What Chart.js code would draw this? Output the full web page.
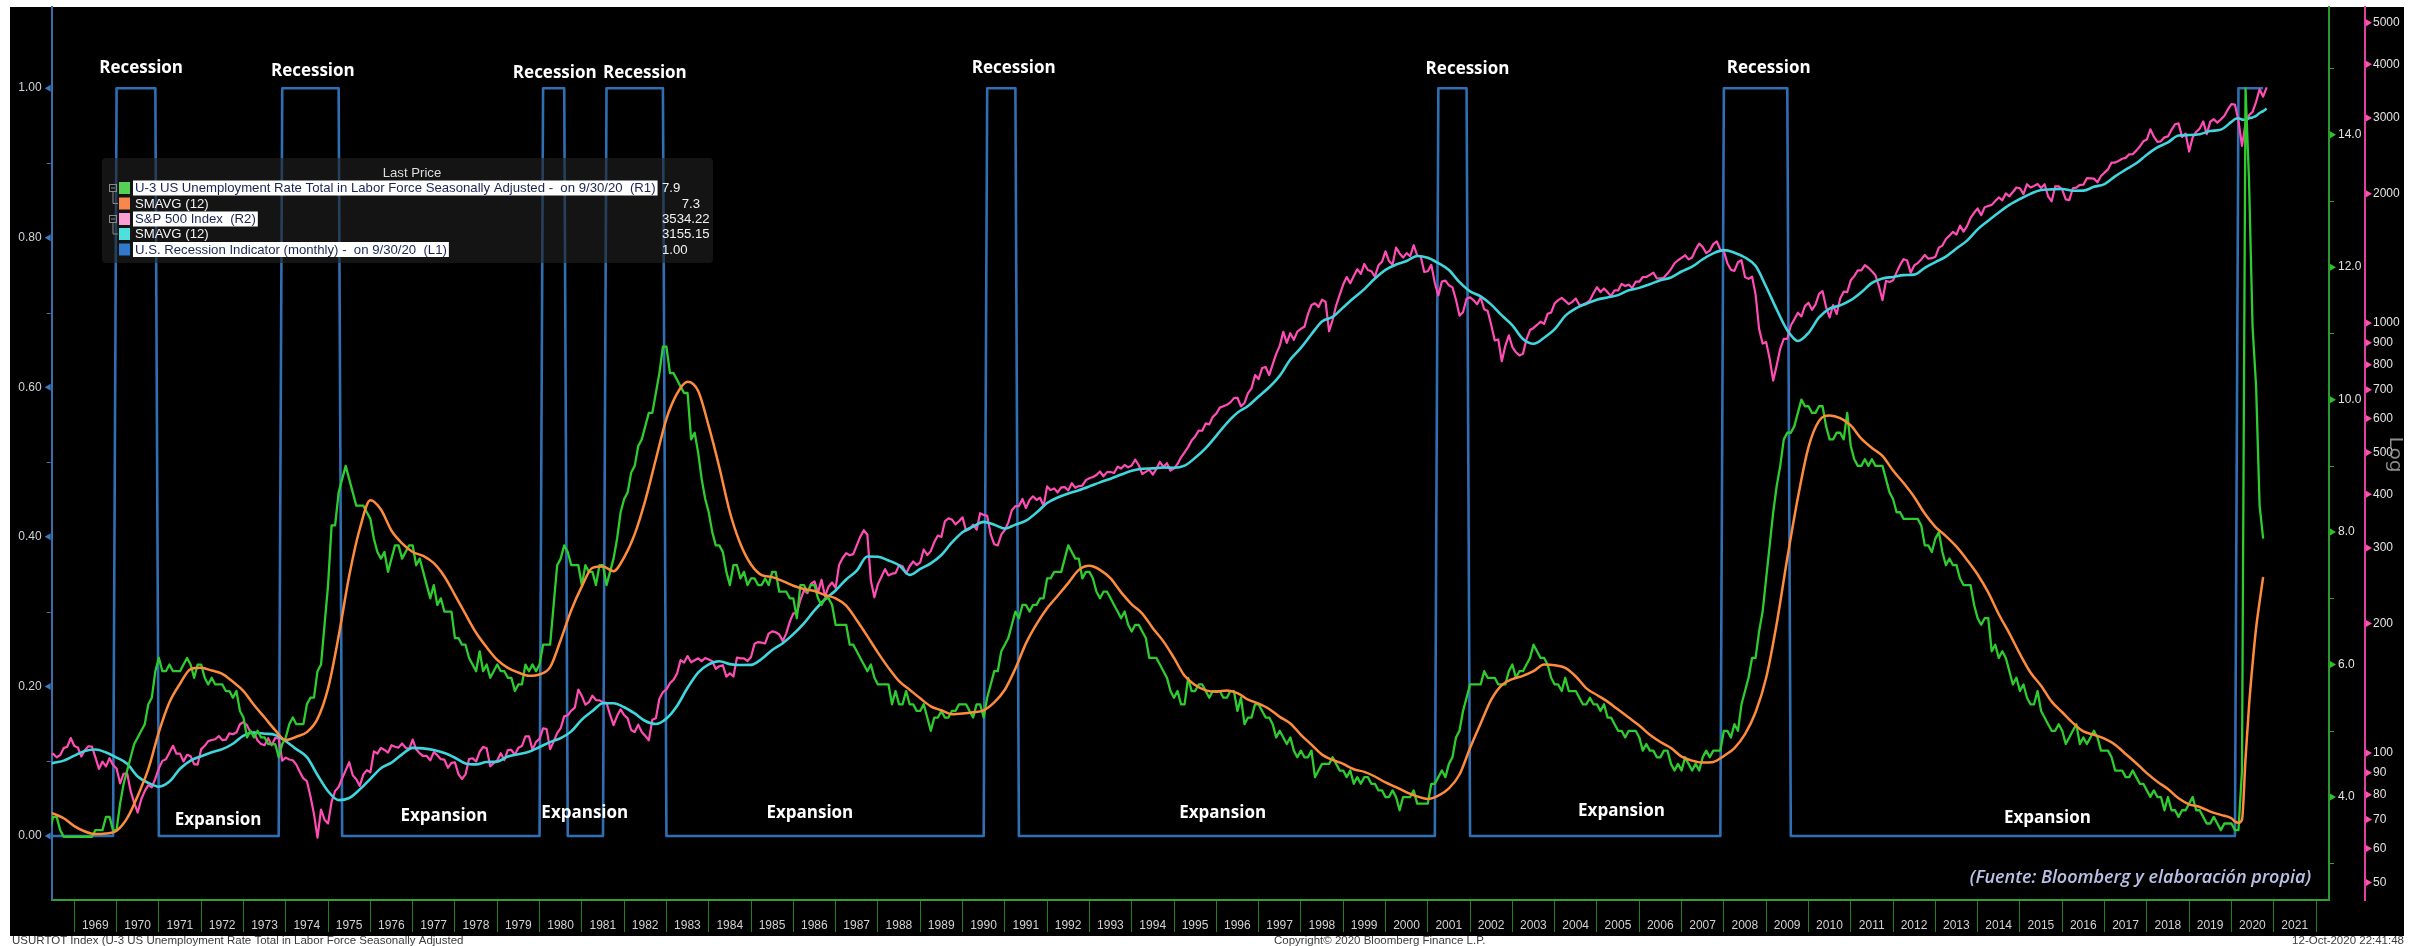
<!DOCTYPE html>
<html>
<head>
<meta charset="utf-8">
<title>U-3 Unemployment, S&amp;P 500 and US recessions</title>
<script src="https://cdn.jsdelivr.net/npm/chart.js@4.4.1/dist/chart.umd.min.js"></script>
<style>
  html, body { margin: 0; padding: 0; background: #fff; }
  canvas { display: block; }
</style>
</head>
<body>
<canvas id="chart" width="2422" height="946"></canvas>
<script>
// all monthly series start in Jan 1968, one value per month
const startYear = 1968;

// U-3 US unemployment rate, % (R1), Jan 1968 .. Sep 2020
const unemployment = [
  3.7,3.8,3.7,3.5,3.5,3.7,3.7,3.5,3.4,3.4,3.4,3.4, // 1968
  3.4,3.4,3.4,3.4,3.4,3.5,3.5,3.5,3.7,3.7,3.5,3.5,
  3.9,4.2,4.4,4.6,4.8,4.9,5.0,5.1,5.4,5.5,5.9,6.1, // 1970
  5.9,5.9,6.0,5.9,5.9,5.9,6.0,6.1,6.0,5.8,6.0,6.0,
  5.8,5.7,5.8,5.7,5.7,5.7,5.6,5.6,5.5,5.6,5.3,5.2,
  4.9,5.0,4.9,5.0,4.9,4.9,4.8,4.8,4.8,4.6,4.8,4.9,
  5.1,5.2,5.1,5.1,5.1,5.4,5.5,5.5,5.9,6.0,6.6,7.2,
  8.1,8.1,8.6,8.8,9.0,8.8,8.6,8.4,8.4,8.4,8.3,8.2, // 1975
  7.9,7.7,7.6,7.7,7.4,7.6,7.8,7.8,7.6,7.7,7.8,7.8,
  7.5,7.6,7.4,7.2,7.0,7.2,6.9,7.0,6.8,6.8,6.8,6.4,
  6.4,6.3,6.3,6.1,6.0,5.9,6.2,5.9,6.0,5.8,5.9,6.0,
  5.9,5.9,5.8,5.8,5.6,5.7,5.7,6.0,5.9,6.0,5.9,6.0,
  6.3,6.3,6.3,6.9,7.5,7.6,7.8,7.7,7.5,7.5,7.5,7.2, // 1980
  7.5,7.4,7.4,7.2,7.5,7.5,7.2,7.4,7.6,7.9,8.3,8.5,
  8.6,8.9,9.0,9.3,9.4,9.6,9.8,9.8,10.1,10.4,10.8,10.8,
  10.4,10.4,10.3,10.2,10.1,10.1,9.4,9.5,9.2,8.8,8.5,8.3,
  8.0,7.8,7.8,7.7,7.4,7.2,7.5,7.5,7.3,7.4,7.2,7.3,
  7.3,7.2,7.2,7.3,7.2,7.4,7.4,7.1,7.1,7.1,7.0,7.0, // 1985
  6.7,7.2,7.2,7.1,7.2,7.2,7.0,6.9,7.0,7.0,6.9,6.6,
  6.6,6.6,6.6,6.3,6.3,6.2,6.1,6.0,5.9,6.0,5.8,5.7,
  5.7,5.7,5.7,5.4,5.6,5.4,5.4,5.6,5.4,5.4,5.3,5.3,
  5.4,5.2,5.0,5.2,5.2,5.3,5.2,5.2,5.3,5.3,5.4,5.4,
  5.4,5.3,5.2,5.4,5.4,5.2,5.5,5.7,5.9,5.9,6.2,6.3, // 1990
  6.4,6.6,6.8,6.7,6.9,6.9,6.8,6.9,6.9,7.0,7.0,7.3,
  7.3,7.4,7.4,7.4,7.6,7.8,7.7,7.6,7.6,7.3,7.4,7.4,
  7.3,7.1,7.0,7.1,7.1,7.0,6.9,6.8,6.7,6.8,6.6,6.5,
  6.6,6.6,6.5,6.4,6.1,6.1,6.1,6.0,5.9,5.8,5.6,5.5,
  5.6,5.4,5.4,5.8,5.6,5.6,5.7,5.7,5.6,5.5,5.6,5.6, // 1995
  5.6,5.5,5.5,5.6,5.6,5.3,5.5,5.1,5.2,5.2,5.4,5.4,
  5.3,5.2,5.2,5.1,4.9,5.0,4.9,4.8,4.9,4.7,4.6,4.7,
  4.6,4.6,4.7,4.3,4.4,4.5,4.5,4.5,4.6,4.5,4.4,4.4,
  4.3,4.4,4.2,4.3,4.2,4.3,4.3,4.2,4.2,4.1,4.1,4.0,
  4.0,4.1,4.0,3.8,4.0,4.0,4.0,4.1,3.9,3.9,3.9,3.9, // 2000
  4.2,4.2,4.3,4.4,4.3,4.5,4.6,4.9,5.0,5.3,5.5,5.7,
  5.7,5.7,5.7,5.9,5.8,5.8,5.8,5.7,5.7,5.7,5.9,6.0,
  5.8,5.9,5.9,6.0,6.1,6.3,6.2,6.1,6.1,6.0,5.8,5.7,
  5.7,5.6,5.8,5.6,5.6,5.6,5.5,5.4,5.4,5.5,5.4,5.4,
  5.3,5.4,5.2,5.2,5.1,5.0,5.0,4.9,5.0,5.0,5.0,4.9, // 2005
  4.7,4.8,4.7,4.7,4.6,4.6,4.7,4.7,4.5,4.4,4.5,4.4,
  4.6,4.5,4.4,4.5,4.4,4.6,4.7,4.6,4.7,4.7,4.7,5.0,
  5.0,4.9,5.1,5.0,5.4,5.6,5.8,6.1,6.1,6.5,6.8,7.3,
  7.8,8.3,8.7,9.0,9.4,9.5,9.5,9.6,9.8,10.0,9.9,9.9,
  9.8,9.8,9.9,9.9,9.6,9.4,9.4,9.5,9.5,9.4,9.8,9.3, // 2010
  9.1,9.0,9.0,9.1,9.0,9.1,9.0,9.0,9.0,8.8,8.6,8.5,
  8.3,8.3,8.2,8.2,8.2,8.2,8.2,8.1,7.8,7.8,7.7,7.9,
  8.0,7.7,7.5,7.6,7.5,7.5,7.3,7.2,7.2,7.2,6.9,6.7,
  6.6,6.7,6.7,6.2,6.3,6.1,6.2,6.1,5.9,5.7,5.8,5.6,
  5.7,5.5,5.4,5.4,5.6,5.3,5.2,5.1,5.0,5.0,5.1,5.0, // 2015
  4.8,4.9,5.0,5.1,4.8,4.9,4.8,4.9,5.0,4.9,4.7,4.7,
  4.7,4.6,4.4,4.4,4.4,4.3,4.3,4.4,4.3,4.2,4.2,4.1,
  4.0,4.1,4.0,4.0,3.8,4.0,3.8,3.8,3.7,3.8,3.8,3.9,
  4.0,3.8,3.8,3.7,3.6,3.6,3.7,3.6,3.5,3.6,3.6,3.6,
  3.5,3.5,4.4,14.7,13.3,11.1,10.2,8.4,7.9          // 2020
];

// SMAVG(12) of the unemployment rate, read at each quarter end, Mar 1968 .. Dec 2019
const unemploymentSmaQ = [
  3.82,3.75,3.68,3.56, 3.48,3.44,3.45,3.49, 3.68,4.02,4.42,4.98, 5.43,5.71,5.93,5.95,
  5.91,5.86,5.74,5.60, 5.39,5.20,5.01,4.86, 4.91,4.98,5.18,5.64, 6.43,7.34,8.05,8.48,
  8.34,8.02,7.83,7.70, 7.64,7.53,7.33,7.05, 6.76,6.48,6.26,6.07, 5.95,5.88,5.83,5.85,
  5.96,6.37,6.82,7.18, 7.46,7.48,7.41,7.62, 7.97,8.48,9.10,9.71, 10.09,10.27,10.13,9.60,
  8.98,8.30,7.82,7.51, 7.35,7.32,7.26,7.19, 7.14,7.11,7.05,7.00, 6.89,6.67,6.43,6.18,
  5.95,5.75,5.62,5.49, 5.37,5.31,5.25,5.26, 5.28,5.31,5.43,5.62, 5.94,6.32,6.61,6.85,
  7.04,7.23,7.43,7.49, 7.43,7.30,7.09,6.91, 6.77,6.55,6.35,6.10, 5.83,5.69,5.61,5.59,
  5.61,5.57,5.47,5.41, 5.33,5.21,5.11,4.94, 4.79,4.64,4.56,4.50, 4.42,4.38,4.31,4.22,
  4.15,4.07,4.01,3.97, 4.02,4.13,4.34,4.74, 5.11,5.47,5.69,5.78, 5.83,5.90,6.00,5.99,
  5.95,5.82,5.64,5.54, 5.44,5.32,5.20,5.08, 4.94,4.83,4.74,4.61, 4.55,4.52,4.53,4.62,
  4.74,4.95,5.28,5.80, 6.62,7.61,8.52,9.28, 9.68,9.76,9.72,9.61, 9.41,9.27,9.15,8.93,
  8.74,8.53,8.28,8.08, 7.94,7.78,7.58,7.36, 7.09,6.76,6.47,6.16, 5.88,5.68,5.44,5.28,
  5.12,4.99,4.94,4.88, 4.79,4.65,4.51,4.36, 4.23,4.12,3.98,3.89, 3.85,3.78,3.73,3.68
];
// SMAVG(12) of the unemployment rate, monthly, Jan .. Sep 2020
const unemploymentSma2020 = [3.63,3.61,3.66,4.58,5.38,6.01,6.55,6.95,7.32];

// S&P 500 index, month-end closes (R2), Jan 1968 .. Oct 2020 (last = 12-Oct-2020)
const spx = [
  92.24,89.36,90.20,97.59,98.68,99.58,97.74,98.86,102.67,103.41,108.37,103.86, // 1968
  103.01,98.13,101.51,103.69,103.46,97.71,91.83,95.51,93.12,97.24,93.81,92.06,
  85.02,89.50,89.63,81.52,76.55,72.72,78.05,81.52,84.21,83.25,87.20,92.15,      // 1970
  95.88,96.75,100.31,103.95,99.63,99.70,95.58,99.03,98.34,94.23,93.99,102.09,
  103.94,106.57,107.20,107.67,109.53,107.14,107.39,111.09,110.55,111.58,116.67,118.05,
  116.03,111.68,111.52,106.97,104.95,104.26,108.22,104.25,108.43,108.29,95.96,97.55,
  96.57,96.22,93.98,90.31,87.28,86.00,79.31,72.15,63.54,73.90,69.97,68.56,
  76.98,81.59,83.36,87.30,91.15,95.19,88.75,86.88,83.87,89.04,91.24,90.19,      // 1975
  100.86,99.71,102.77,101.64,100.18,104.28,103.44,102.91,105.24,102.90,102.10,107.46,
  102.03,99.82,98.42,98.44,96.12,100.48,98.85,96.77,96.53,92.34,94.83,95.10,
  89.25,87.04,89.21,96.83,97.24,95.53,100.68,103.29,102.54,93.15,94.70,96.11,
  99.93,96.28,101.59,101.76,99.08,102.91,103.81,109.32,109.32,101.82,106.16,107.94,
  114.16,113.66,102.09,106.29,111.24,114.24,121.67,122.38,125.46,127.47,140.52,135.76, // 1980
  129.55,131.27,136.00,132.81,132.59,131.21,130.92,122.79,116.18,121.89,126.35,122.55,
  120.40,113.11,111.96,116.44,111.88,109.61,107.09,119.51,120.42,133.71,138.54,140.64,
  145.30,148.06,152.96,164.42,162.39,168.11,162.56,164.40,166.07,163.55,166.40,164.93,
  163.41,157.06,159.18,160.05,150.55,153.18,150.66,166.68,166.10,166.09,163.58,167.24,
  179.63,181.18,180.66,179.83,189.55,191.85,190.92,188.63,182.08,189.82,202.17,211.28, // 1985
  211.78,226.92,238.90,235.52,247.35,250.84,236.12,252.93,231.32,243.98,249.22,242.17,
  274.08,284.20,291.70,288.36,290.10,304.00,318.66,329.80,321.83,251.79,230.30,247.08,
  257.07,267.82,258.89,261.33,262.16,273.50,272.02,261.52,271.91,278.97,273.70,277.72,
  297.47,288.86,294.87,309.64,320.52,317.98,346.08,351.45,349.15,340.36,345.99,353.40,
  329.08,331.89,339.94,330.80,361.23,358.02,356.15,322.56,306.05,304.00,322.22,330.22, // 1990
  343.93,367.07,375.22,375.35,389.83,371.16,387.81,395.43,387.86,392.46,375.22,417.09,
  408.79,412.70,403.69,414.95,415.35,408.14,424.21,414.03,417.80,418.68,431.35,435.71,
  438.78,443.38,451.67,440.19,450.19,450.53,448.13,463.56,458.93,467.83,461.79,466.45,
  481.61,467.14,445.77,450.91,456.50,444.27,458.26,475.49,462.69,472.35,453.69,459.27,
  470.42,487.39,500.71,514.71,533.40,544.75,562.06,561.88,584.41,581.50,605.37,615.93, // 1995
  636.02,640.43,645.50,654.17,669.12,670.63,639.95,651.99,687.31,705.27,757.02,740.74,
  786.16,790.82,757.12,801.34,848.28,885.14,954.29,899.47,947.28,914.62,955.40,970.43,
  980.28,1049.34,1101.75,1111.75,1090.82,1133.84,1120.67,957.28,1017.01,1098.67,1163.63,1229.23,
  1279.64,1238.33,1286.37,1335.18,1301.84,1372.71,1328.72,1320.41,1282.71,1362.93,1388.91,1469.25,
  1394.46,1366.42,1498.58,1452.43,1420.60,1454.60,1430.83,1517.68,1436.51,1429.40,1314.95,1320.28, // 2000
  1366.01,1239.94,1160.33,1249.46,1255.82,1224.38,1211.23,1133.58,1040.94,1059.78,1139.45,1148.08,
  1130.20,1106.73,1147.39,1076.92,1067.14,989.82,911.62,916.07,815.28,885.76,936.31,879.82,
  855.70,841.15,848.18,916.92,963.59,974.50,990.31,1008.01,995.97,1050.71,1058.20,1111.92,
  1131.13,1144.94,1126.21,1107.30,1120.68,1140.84,1101.72,1104.24,1114.58,1130.20,1173.82,1211.92,
  1181.27,1203.60,1180.59,1156.85,1191.50,1191.33,1234.18,1220.33,1228.81,1207.01,1249.48,1248.29, // 2005
  1280.08,1280.66,1294.83,1310.61,1270.09,1270.20,1276.66,1303.82,1335.85,1377.94,1400.63,1418.30,
  1438.24,1406.82,1420.86,1482.37,1530.62,1503.35,1455.27,1473.99,1526.75,1549.38,1481.14,1468.36,
  1378.55,1330.63,1322.70,1385.59,1400.38,1280.00,1267.38,1282.83,1166.36,968.75,896.24,903.25,
  825.88,735.09,797.87,872.81,919.14,919.32,987.48,1020.62,1057.08,1036.19,1095.63,1115.10,
  1073.87,1104.49,1169.43,1186.69,1089.41,1030.71,1101.60,1049.33,1141.20,1183.26,1180.55,1257.64, // 2010
  1286.12,1327.22,1325.83,1363.61,1345.20,1320.64,1292.28,1218.89,1131.42,1253.30,1246.96,1257.60,
  1312.41,1365.68,1408.47,1397.91,1310.33,1362.16,1379.32,1406.58,1440.67,1412.16,1416.18,1426.19,
  1498.11,1514.68,1569.19,1597.57,1630.74,1606.28,1685.73,1632.97,1681.55,1756.54,1805.81,1848.36,
  1782.59,1859.45,1872.34,1883.95,1923.57,1960.23,1930.67,2003.37,1972.29,2018.05,2067.56,2058.90,
  1994.99,2104.50,2067.89,2085.51,2107.39,2063.11,2103.84,1972.18,1920.03,2079.36,2080.41,2043.94, // 2015
  1940.24,1932.23,2059.74,2065.30,2096.95,2098.86,2173.60,2170.95,2168.27,2126.15,2198.81,2238.83,
  2278.87,2363.64,2362.72,2384.20,2411.80,2423.41,2470.30,2471.65,2519.36,2575.26,2647.58,2673.61,
  2823.81,2713.83,2640.87,2648.05,2705.27,2718.37,2816.29,2901.52,2913.98,2711.74,2760.17,2506.85,
  2704.10,2784.49,2834.40,2945.83,2752.06,2941.76,2980.38,2926.46,2976.74,3037.56,3140.98,3230.78,
  3225.52,2954.22,2584.59,2912.43,3044.31,3100.29,3271.12,3500.31,3363.00,3534.22 // 2020
];

// SMAVG(12) of the S&P 500, read at each quarter end, Mar 1968 .. Dec 2019
const spxSmaQ = [
  92.9,94.8,96.0,98.6, 101.1,101.9,100.3,97.6, 94.4,88.2,85.2,83.5, 85.8,91.9,96.0,98.3,
  100.4,102.1,105.1,109.8, 111.6,110.9,110.2,106.5, 102.1,97.8,88.9,81.5, 77.7,78.6,82.3,87.1,
  92.2,95.0,99.3,102.8, 102.5,101.6,100.0,97.5, 94.6,94.1,95.3,95.5, 98.2,99.3,100.7,103.3,
  106.0,108.3,112.3,119.6, 125.2,130.6,130.6,127.8, 123.6,118.7,116.8,120.3, 128.7,141.8,153.9,160.8,
  163.5,161.0,160.2,160.3, 165.5,173.6,180.1,189.0, 200.3,214.7,227.9,238.9, 253.3,265.7,286.5,286.0,
  280.5,273.4,259.6,268.1, 276.2,288.8,308.9,326.3, 336.3,344.8,339.6,332.7, 339.8,347.0,362.5,381.5,
  393.1,401.6,408.7,417.1, 426.2,434.7,444.3,453.5, 458.5,459.4,461.6,460.7, 466.0,486.1,512.1,546.9,
  585.5,618.9,641.5,674.9, 709.2,754.3,822.7,875.9, 942.3,1009.1,1033.6,1087.9, 1143.9,1200.0,1269.8,1330.6,
  1368.5,1395.0,1432.8,1419.7, 1378.6,1328.8,1245.5,1185.8, 1153.9,1104.3,1042.4,988.6, 918.7,895.4,924.7,967.9,
  1039.4,1082.2,1109.4,1134.0, 1147.6,1161.8,1192.0,1207.8, 1232.0,1257.9,1277.3,1318.3, 1352.5,1408.0,1452.9,1478.1,
  1458.6,1421.1,1359.5,1215.2, 1075.8,962.9,908.6,948.5, 1030.9,1080.6,1099.5,1130.7, 1180.0,1240.2,1269.4,1280.8,
  1293.1,1296.5,1345.1,1386.5, 1427.8,1491.5,1555.9,1652.3, 1730.0,1807.8,1883.3,1944.4, 1998.8,2039.5,2047.0,2051.9,
  2032.3,2032.8,2075.8,2105.8, 2195.2,2275.1,2354.1,2465.2, 2563.0,2634.0,2731.5,2738.4, 2750.4,2797.8,2818.8,2938.0
];
// SMAVG(12) of the S&P 500, monthly, Jan .. Oct 2020
const spxSma2020 = [2981.4,2995.6,2974.7,2972.0,2996.3,3009.5,3033.8,3081.6,3113.8,3155.1];

// US recession indicator (L1): first and last month at 1
const recessionStart = ['1969-12','1973-11','1980-01','1981-07','1990-07','2001-03','2007-12','2020-02'];
const recessionEnd   = ['1970-11','1975-03','1980-07','1982-11','1991-03','2001-11','2009-06','2020-09'];

// axis ticks
const l1Ticks = [0, 0.2, 0.4, 0.6, 0.8, 1.0];
const l1Minor = [0.1, 0.3, 0.5, 0.7, 0.9];
const r1Ticks = [4, 6, 8, 10, 12, 14];
const r1Minor = [3, 5, 7, 9, 11, 13, 15];
const r2Ticks = [50,60,70,80,90,100,200,300,400,500,600,700,800,900,1000,2000,3000,4000,5000];
const firstYear = 1969, lastYear = 2022;

// annotations, in data units [year, L1 value]
const recessionLabels = [[1970.58,1.027],[1974.64,1.023],[1980.36,1.020],[1982.49,1.020],
                         [1991.21,1.027],[2001.94,1.025],[2009.06,1.027]];
const expansionLabels = [[1972.40,0.021],[1977.74,0.027],[1981.07,0.031],[1986.39,0.031],
                         [1996.15,0.031],[2005.58,0.033],[2015.65,0.024]];

const legendRows = [
  {color: '#55d255', text: 'U-3 US Unemployment Rate Total in Labor Force Seasonally Adjusted -  on 9/30/20  (R1)', value: '7.9', vx: 662, align: 'left', light: true, tree: true},
  {color: '#f7874a', text: 'SMAVG (12)', value: '7.3', vx: 700, align: 'right'},
  {color: '#f8a0d6', text: 'S&P 500 Index  (R2)', value: '3534.22', vx: 662, align: 'left', light: true, tree: true},
  {color: '#4de0dc', text: 'SMAVG (12)', value: '3155.15', vx: 662, align: 'left'},
  {color: '#3079cc', text: 'U.S. Recession Indicator (monthly) -  on 9/30/20  (L1)', value: '1.00', vx: 662, align: 'left', light: true}
];

// ---- build points ----
const monthX = i => startYear + (i + 1) / 12;   // plotted at month end
const monthIndex = s => { const [y, m] = s.split('-').map(Number); return (y - startYear) * 12 + m - 1; };
const jan2020 = (2020 - startYear) * 12;

const unempPts = unemployment.map((v, i) => ({x: monthX(i), y: v}));
const unempSmaPts = unemploymentSmaQ.map((v, q) => ({x: monthX(q * 3 + 2), y: v}))
  .concat(unemploymentSma2020.map((v, i) => ({x: monthX(jan2020 + i), y: v})));
const spxPts = spx.map((v, i) => ({x: monthX(i), y: v}));
const spxSmaPts = spxSmaQ.map((v, q) => ({x: monthX(q * 3 + 2), y: v}))
  .concat(spxSma2020.map((v, i) => ({x: monthX(jan2020 + i), y: v})));

const lastMonth = unemployment.length - 1;
const recPts = [{x: monthX(0), y: 0}];
recessionStart.forEach((s, k) => {
  const a = monthIndex(s), b = monthIndex(recessionEnd[k]);
  recPts.push({x: monthX(a - 1), y: 0}, {x: monthX(a), y: 1}, {x: monthX(b), y: 1});
  if (b < lastMonth) recPts.push({x: monthX(b + 1), y: 0});
});

const yearTicks = [];
for (let y = firstYear; y <= lastYear; y++) yearTicks.push(y);

// ---- drawing helpers ----
const setTicks = list => scale => { scale.ticks = list.map(v => ({value: v})); };

// invisible tick marks give the label gap without adding top padding to the chart area
const gapGrid = len => ({display: true, drawOnChartArea: false, drawTicks: true, tickLength: len, tickColor: 'rgba(0,0,0,0)'});

function arrow(ctx, x, y, dir, color) {
  ctx.fillStyle = color;
  ctx.beginPath();
  ctx.moveTo(x, y - 3.5);
  ctx.lineTo(x + dir * 6, y);
  ctx.lineTo(x, y + 3.5);
  ctx.closePath();
  ctx.fill();
}

function drawLegend(ctx) {
  ctx.save();
  ctx.fillStyle = 'rgba(34,34,34,0.6)';
  ctx.beginPath();
  ctx.roundRect(102, 158, 611, 105, 4);
  ctx.fill();

  ctx.font = '13px "Liberation Sans"';
  const size = 13 * 521 / ctx.measureText(legendRows[0].text).width;
  ctx.font = size.toFixed(2) + 'px "Liberation Sans"';
  ctx.textBaseline = 'middle';
  ctx.textAlign = 'center';
  ctx.fillStyle = '#dedede';
  ctx.fillText('Last Price', 412, 173);

  const rowY = [188, 203.5, 219, 234, 249.5];
  legendRows.forEach((r, i) => {
    const y = rowY[i];
    ctx.fillStyle = r.color;
    ctx.fillRect(119, y - 6, 11, 12);
    ctx.textAlign = 'left';
    const w = ctx.measureText(r.text).width;
    if (r.light) {
      ctx.fillStyle = '#ffffff';
      ctx.fillRect(133, y - 7.5, w + 4, 15);
      ctx.fillStyle = '#1b2552';
    } else {
      ctx.fillStyle = '#f2f2f2';
    }
    ctx.fillText(r.text, 135, y + 0.5);
    ctx.fillStyle = '#f2f2f2';
    ctx.textAlign = r.align;
    ctx.fillText(r.value, r.vx, y + 0.5);
    if (r.tree) {
      ctx.strokeStyle = '#8a8a8a';
      ctx.lineWidth = 1;
      ctx.strokeRect(109.5, y - 3.5, 7, 7);
      ctx.beginPath();
      ctx.moveTo(111, y); ctx.lineTo(115, y);
      ctx.moveTo(113, y + 3.5); ctx.lineTo(113, rowY[i + 1]); ctx.lineTo(118, rowY[i + 1]);
      ctx.stroke();
    }
  });
  ctx.restore();
}

const frame = {
  id: 'frame',
  beforeDraw(chart) {
    const ctx = chart.ctx;
    ctx.save();
    ctx.fillStyle = '#ffffff';
    ctx.fillRect(0, 0, chart.width, chart.height);
    ctx.fillStyle = '#000000';
    ctx.fillRect(10, 7, 2394, 929);
    ctx.restore();
  }
};

const overlay = {
  id: 'overlay',
  afterDraw(chart) {
    const ctx = chart.ctx;
    const {x, l1, r1, r2} = chart.scales;
    const area = chart.chartArea;
    ctx.save();

    // axis markers
    l1Ticks.forEach(v => arrow(ctx, area.left - 1, l1.getPixelForValue(v), -1, '#3c78bd'));
    r1Ticks.forEach(v => arrow(ctx, area.right + 1, r1.getPixelForValue(v), 1, '#2fbf2f'));
    r2Ticks.forEach(v => arrow(ctx, r2.left + 1, r2.getPixelForValue(v), 1, '#ff4fb4'));
    ctx.lineWidth = 1;
    ctx.strokeStyle = '#3c78bd';
    l1Minor.forEach(v => {
      const y = Math.round(l1.getPixelForValue(v)) + 0.5;
      ctx.beginPath(); ctx.moveTo(area.left - 1, y); ctx.lineTo(area.left - 5, y); ctx.stroke();
    });
    ctx.strokeStyle = '#2fa52f';
    r1Minor.forEach(v => {
      const y = Math.round(r1.getPixelForValue(v)) + 0.5;
      ctx.beginPath(); ctx.moveTo(area.right + 1, y); ctx.lineTo(area.right + 5, y); ctx.stroke();
    });

    // Recession / Expansion labels
    ctx.fillStyle = '#ffffff';
    ctx.font = 'bold 17px "Open Sans"';
    ctx.textAlign = 'center';
    ctx.textBaseline = 'middle';
    recessionLabels.forEach(([yr, v]) => ctx.fillText('Recession', x.getPixelForValue(yr), l1.getPixelForValue(v)));
    expansionLabels.forEach(([yr, v]) => ctx.fillText('Expansion', x.getPixelForValue(yr), l1.getPixelForValue(v)));

    // source note
    ctx.font = 'italic 600 18px "Open Sans"';
    ctx.fillStyle = '#b9c2e6';
    ctx.textAlign = 'right';
    ctx.fillText('(Fuente: Bloomberg y elaboración propia)', area.right - 18, area.bottom - 22, 349);

    // "Log" marker on the S&P axis
    ctx.save();
    ctx.translate(r2.left + 29, (area.top + area.bottom) / 2 + 1);
    ctx.rotate(Math.PI / 2);
    ctx.scale(1.2, 1);
    ctx.font = '17px "DejaVu Sans"';
    ctx.fillStyle = '#8c8c8c';
    ctx.textAlign = 'center';
    ctx.fillText('Log', 0, 0);
    ctx.restore();

    drawLegend(ctx);

    // footer
    ctx.font = '11.5px "Liberation Sans"';
    ctx.fillStyle = '#3a3a3a';
    ctx.textBaseline = 'middle';
    ctx.textAlign = 'left';
    ctx.fillText('USURTOT Index (U-3 US Unemployment Rate Total in Labor Force Seasonally Adjusted', 12, 941);
    ctx.fillText('Copyright\u00A9 2020 Bloomberg Finance L.P.', 1274, 941);
    ctx.textAlign = 'right';
    ctx.fillText('12-Oct-2020 22:41:48', 2404, 941);
    ctx.restore();
  }
};

const tickFont = {family: 'Liberation Sans', size: 12};

new Chart(document.getElementById('chart'), {
  type: 'line',
  data: {
    datasets: [
      {label: 'U.S. Recession Indicator (monthly)', data: recPts, yAxisID: 'l1',
       borderColor: '#2f6fb3', borderWidth: 2.6, order: 5},
      {label: 'S&P 500 Index', data: spxPts, yAxisID: 'r2',
       borderColor: '#ff4db5', borderWidth: 2.2, order: 4},
      {label: 'SMAVG (12)', data: spxSmaPts, yAxisID: 'r2',
       borderColor: '#3fd6de', borderWidth: 2.6, order: 3, cubicInterpolationMode: 'monotone'},
      {label: 'U-3 US Unemployment Rate', data: unempPts, yAxisID: 'r1',
       borderColor: '#2fcc2f', borderWidth: 2.3, order: 2},
      {label: 'SMAVG (12)', data: unempSmaPts, yAxisID: 'r1',
       borderColor: '#ff8c3c', borderWidth: 2.5, order: 1, cubicInterpolationMode: 'monotone'}
    ]
  },
  options: {
    responsive: false,
    animation: false,
    devicePixelRatio: 1,
    layout: {padding: {left: 10, right: 18, top: 7, bottom: 10}},
    elements: {point: {radius: 0}, line: {borderJoinStyle: 'round', fill: false}},
    datasets: {line: {clip: 0}},
    plugins: {legend: {display: false}, tooltip: {enabled: false}},
    scales: {
      x: {
        type: 'linear', position: 'bottom', bounds: 'data',
        min: 1968.466, max: 2022.307,
        afterBuildTicks: setTicks(yearTicks),
        afterFit: s => { s.height = 36; },
        grid: {display: true, drawOnChartArea: false, drawTicks: true, tickLength: 32, color: '#1f7f1f', lineWidth: 1},
        border: {display: true, color: '#2fa32f', width: 2},
        ticks: {autoSkip: false, maxRotation: 0, labelOffset: 21, padding: -14, color: '#d2d2d2', font: tickFont,
                callback: v => v < lastYear ? String(v) : ''}
      },
      l1: {
        type: 'linear', position: 'left', bounds: 'data',
        min: -0.0856, max: 1.1083,
        afterBuildTicks: setTicks(l1Ticks),
        afterFit: s => { s.width = 41.7; },
        grid: gapGrid(10),
        border: {display: true, color: '#3a6ea8', width: 2},
        ticks: {padding: 0, color: '#cfd3d8', font: tickFont, callback: v => v.toFixed(2)}
      },
      r1: {
        type: 'linear', position: 'right', weight: 0, bounds: 'data',
        min: 2.4453, max: 15.925,
        afterBuildTicks: setTicks(r1Ticks),
        afterFit: s => { s.width = 36; },
        grid: gapGrid(9),
        border: {display: true, color: '#2a9a2a', width: 2},
        ticks: {padding: 0, color: '#e2e2e2', font: tickFont, callback: v => v.toFixed(1)}
      },
      r2: {
        type: 'logarithmic', position: 'right', weight: 1, bounds: 'data',
        min: 45.51, max: 5431,
        afterBuildTicks: setTicks(r2Ticks),
        afterFit: s => { s.width = 39; },
        grid: gapGrid(8),
        border: {display: true, color: '#e0409e', width: 2},
        ticks: {padding: 0, color: '#e2e2e2', font: tickFont, callback: v => String(v)}
      }
    }
  },
  plugins: [frame, overlay]
});
</script>
</body>
</html>
